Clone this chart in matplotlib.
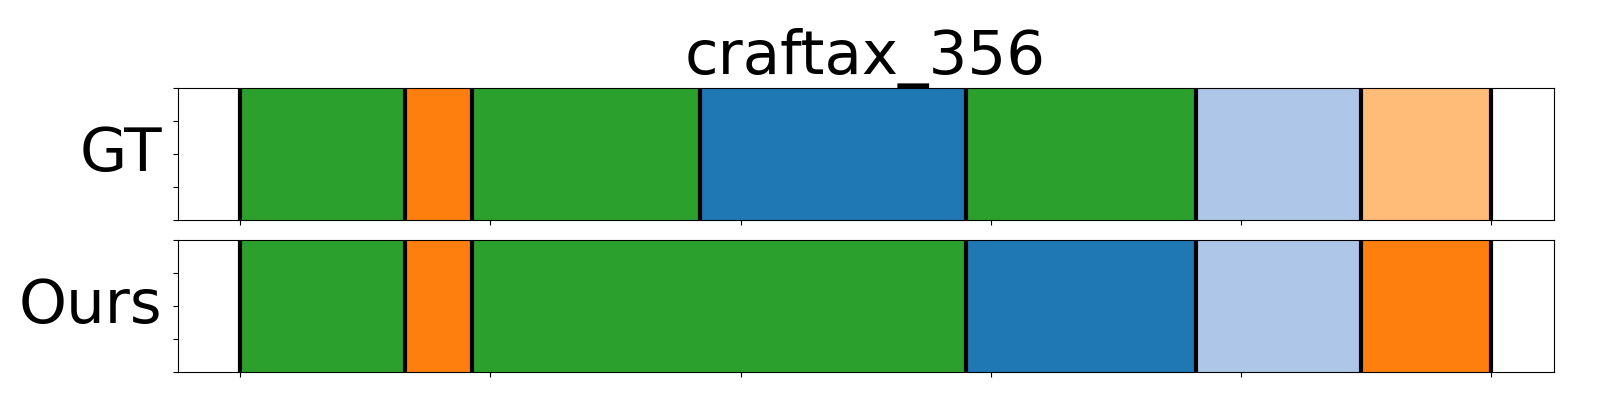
import matplotlib.pyplot as plt

title = "craftax_356"
rows = ["GT", "Ours"]
# segment boundaries (time steps) and colours per row
gt_bounds = [0, 13.2, 18.5, 36.8, 58.0, 76.4, 89.6, 100]
gt_colors = ["#2ca02c", "#ff7f0e", "#2ca02c", "#1f77b4", "#2ca02c", "#aec7e8", "#ffbb78"]
ours_bounds = [0, 13.2, 18.5, 58.0, 76.4, 89.6, 100]
ours_colors = ["#2ca02c", "#ff7f0e", "#2ca02c", "#1f77b4", "#aec7e8", "#ff7f0e"]
total = 100

fig = plt.figure(figsize=(16, 4), dpi=100)
ax1 = fig.add_axes([0.111, 0.45, 0.86, 0.33])
ax2 = fig.add_axes([0.111, 0.07, 0.86, 0.33])

for ax, label, bounds, colors in [(ax1, rows[0], gt_bounds, gt_colors),
                                  (ax2, rows[1], ours_bounds, ours_colors)]:
    for i, c in enumerate(colors):
        ax.axvspan(bounds[i], bounds[i + 1], color=c, lw=0)
    for b in bounds:
        ax.axvline(b, color="black", lw=3)
    ax.set_xlim(-0.05 * total, 1.05 * total)
    ax.set_ylim(0, 1)
    ax.set_xticks([0, 20, 40, 60, 80, 100])
    ax.set_yticks([0, 0.25, 0.5, 0.75, 1])
    ax.set_xticklabels([])
    ax.set_yticklabels([])
    ax.set_ylabel(label, rotation=0, fontsize=44, ha="right", va="center")

ax1.set_title(title, fontsize=44)
fig.savefig("out.png")
